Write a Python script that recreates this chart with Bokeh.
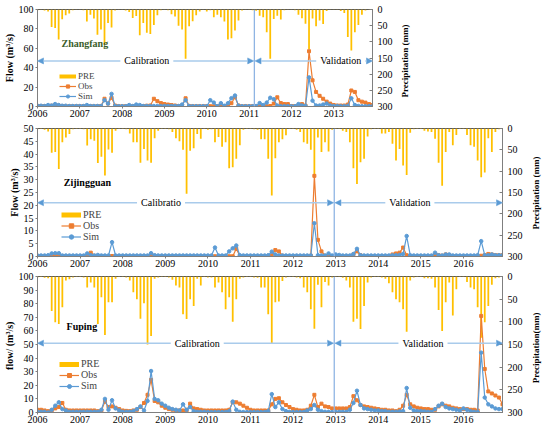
import math
from bokeh.plotting import figure
from bokeh.models import (Range1d, LinearAxis, FixedTicker, Span, Arrow, NormalHead,
                          Label, Legend, LegendItem, ColumnDataSource)
from bokeh.layouts import column
from bokeh.embed import file_html
from bokeh.resources import INLINE

FONT = "Liberation Serif"
GOLD = "#FFC000"
OBS_C = "#ED7D31"
SIM_C = "#5B9BD5"
ARROW_LINE = "#A9CBEB"
ARROW_HEAD = "#5B9BD5"
VLINE_C = "#8FB4E3"
NBSP = "\u00a0"

# ---------------- Zhangfang (2006-2013, monthly) ----------------
zf_years = ["2006", "2007", "2008", "2009", "2010", "2011", "2012", "2013"]
zf_pre = [2, 1, 3, 6, 54, 57, 93, 30, 18, 12, 2, 1,
          1, 2, 37, 16, 28, 78, 62, 109, 42, 56, 3, 1,
          1, 3, 8, 26, 20, 80, 42, 72, 76, 48, 18, 2,
          1, 2, 15, 22, 50, 62, 152, 52, 36, 18, 6, 1,
          6, 2, 24, 16, 24, 37, 93, 89, 65, 34, 3, 1,
          1, 2, 4, 19, 24, 70, 152, 29, 19, 31, 2, 1,
          1, 2, 16, 27, 44, 122, 28, 52, 34, 45, 5, 1,
          1, 1, 5, 11, 85, 127, 70, 48, 16, 3, 1, 1]
zf_obs = [0.5, 0.5, 0.5, 0.5, 0.8, 1.2, 1, 0.5, 0.3, 0.3, 0.3, 0.3,
          0.3, 0.3, 0.3, 0.3, 0.3, 0.3, 0.5, 8, 3, 9, 1, 0.3,
          0.3, 0.3, 0.3, 0.3, 0.5, 0.5, 0.5, 0.8, 1, 8, 5.5, 3.5,
          2.5, 2, 1.5, 1, 0.5, 1, 8.5, 0.5, 0.3, 0.3, 0.3, 0.3,
          0.3, 0.3, 0.3, 0.3, 1.5, 0.3, 0.3, 3.4, 9.6, 1, 0.3, 0.3,
          0.3, 0.3, 0.3, 0.3, 0.3, 0.3, 0.5, 3, 9.5, 3.5, 2.5, 2.5,
          0.5, 0.5, 1, 2.5, 1, 57, 27, 15, 11, 8, 5, 3,
          1.5, 1, 1, 1, 2, 16.5, 15, 6.5, 5, 4, 2.5, 1.5]
zf_sim = [0.8, 0.8, 0.5, 1.5, 1, 2.5, 1.5, 0.8, 0.8, 0.5, 0.5, 0.5,
          0.5, 0.5, 1.5, 0.5, 0.5, 0.5, 0.5, 6.5, 3, 13, 0.5, 0.3,
          0.3, 0.3, 1.5, 0.5, 2, 1.5, 0.5, 0.5, 0.5, 0.5, 0.5, 0.5,
          0.5, 0.5, 0.5, 0.5, 0.5, 2, 6.5, 0.5, 0.3, 0.3, 0.3, 0.3,
          0.3, 6.5, 4, 0.3, 3.4, 0.8, 3.4, 8.6, 11.3, 0.7, 0.3, 0.3,
          0.3, 0.3, 0.5, 3.5, 1.5, 4, 9, 7.5, 1, 0.3, 0.3, 0.3,
          0.3, 0.3, 2.5, 1, 0.5, 30, 6, 1, 1, 2, 3, 1,
          0.5, 0.5, 0.3, 0.3, 0.5, 8.5, 1.5, 0.5, 0.3, 0.3, 0.3, 0.3]

# ---------------- Zijingguan (2006-2016, monthly) ----------------
zj_years = ["2006", "2007", "2008", "2009", "2010", "2011", "2012", "2013", "2014", "2015", "2016"]
zj_pre = [2, 1, 3, 7, 57, 55, 95, 32, 21, 13, 2, 1,
          1, 2, 40, 25, 29, 81, 66, 110, 49, 57, 5, 1,
          1, 2, 12, 32, 32, 80, 48, 75, 80, 23, 5, 1,
          1, 2, 8, 23, 30, 50, 153, 52, 46, 13, 24, 1,
          3, 2, 32, 20, 43, 32, 93, 91, 71, 39, 3, 1,
          1, 2, 3, 25, 25, 71, 157, 70, 32, 25, 16, 1,
          1, 3, 8, 32, 36, 50, 110, 21, 55, 32, 54, 3,
          1, 1, 5, 8, 32, 93, 130, 79, 71, 19, 2, 1,
          1, 12, 12, 8, 36, 75, 48, 87, 109, 10, 2, 1,
          1, 5, 7, 8, 24, 80, 134, 55, 8, 39, 15, 1,
          1, 15, 39, 43, 75, 114, 103, 23, 55, 8, 2, 1]
zj_obs = [0.1, 0.1, 0.1, 0.1, 0.3, 0.5, 0.5, 0.2, 0.1, 0.1, 0.1, 0.1,
          0.1, 0.1, 0.3, 1.5, 0.3, 0.1, 0.1, 0.1, 0.1, 0.2, 0.1, 0.1,
          0.1, 0.1, 0.1, 0.1, 0.1, 0.1, 0.1, 0.1, 0.5, 0.3, 0.1, 0.1,
          0.1, 0.1, 0.1, 0.1, 0.1, 0.1, 0.1, 0.1, 0.1, 0.1, 0.1, 0.1,
          0.1, 0.1, 0.1, 0.1, 0.1, 0.1, 0.1, 0.1, 3, 0.2, 0.1, 0.1,
          0.1, 0.1, 0.1, 0.1, 0.1, 0.1, 0.5, 2.5, 2, 0.3, 0.1, 0.1,
          0.1, 0.1, 0.1, 0.1, 0.1, 0.3, 31.5, 6.5, 2, 0.3, 0.1, 0.1,
          0.2, 0.2, 0.1, 0.1, 0.1, 0.8, 2, 0.5, 0.1, 0.1, 0.1, 0.1,
          0.1, 0.1, 0.1, 0.1, 0.8, 1.2, 1.5, 3.5, 0.5, 0.2, 0.1, 0.1,
          0.1, 0.1, 0.1, 0.1, 0.8, 0.5, 0.3, 0.8, 0.5, 0.2, 0.1, 0.1,
          0.1, 0.1, 0.1, 0.1, 0.3, 0.3, 0.5, 1, 0.8, 0.5, 0.5, 0.5]
zj_sim = [0.4, 0.4, 0.4, 0.5, 1.2, 1.3, 1.3, 0.4, 0.4, 0.4, 0.4, 0.4,
          0.4, 0.4, 1.2, 0.5, 0.4, 0.6, 0.4, 0.4, 0.4, 5.6, 0.4, 0.4,
          0.4, 0.4, 0.4, 0.4, 0.4, 0.4, 0.4, 0.4, 1.3, 0.5, 0.4, 0.4,
          0.4, 0.4, 0.4, 0.4, 0.4, 0.4, 0.4, 0.4, 0.4, 0.4, 0.4, 0.4,
          0.4, 0.4, 3.5, 0.4, 0.4, 0.4, 2, 3.2, 4.3, 0.5, 0.4, 0.4,
          0.4, 0.4, 0.4, 0.4, 0.4, 0.5, 1.9, 0.8, 0.4, 0.4, 0.4, 0.4,
          0.4, 0.4, 0.4, 0.4, 0.4, 0.4, 13, 0.5, 0.4, 0.4, 1.2, 0.4,
          0.8, 0.6, 0.4, 0.4, 0.4, 1, 3, 0.5, 0.4, 0.4, 0.4, 0.4,
          0.4, 0.4, 0.4, 0.4, 0.5, 0.5, 0.6, 1, 8, 0.5, 0.4, 0.4,
          0.4, 0.4, 0.4, 0.4, 1.5, 0.5, 0.4, 0.8, 0.8, 0.4, 0.4, 0.4,
          0.4, 0.4, 0.4, 0.4, 0.5, 6, 0.5, 0.5, 0.8, 0.5, 0.5, 0.5]

# ---------------- Fuping (2006-2016, monthly) ----------------
fp_years = zj_years
fp_pre = [2, 1, 3, 4, 76, 101, 105, 68, 9, 6, 2, 1,
          1, 2, 24, 13, 24, 105, 46, 129, 57, 57, 5, 1,
          1, 2, 9, 35, 50, 93, 59, 150, 131, 5, 2, 1,
          1, 2, 7, 20, 24, 83, 94, 50, 65, 5, 20, 1,
          2, 2, 24, 13, 35, 72, 46, 100, 50, 5, 2, 1,
          1, 2, 3, 24, 24, 83, 148, 57, 55, 10, 2, 1,
          1, 2, 4, 24, 35, 72, 115, 18, 68, 12, 20, 2,
          1, 1, 3, 9, 24, 100, 93, 116, 65, 13, 2, 1,
          1, 2, 5, 15, 35, 50, 57, 72, 122, 9, 2, 1,
          1, 4, 4, 5, 24, 74, 120, 57, 13, 86, 28, 1,
          1, 12, 24, 28, 68, 135, 101, 65, 18, 4, 2, 1]
fp_obs = [2, 2, 1.5, 1, 1.5, 3, 4, 7, 2, 1.5, 1.5, 1.5,
          1.5, 1.5, 1.5, 1.5, 1.5, 1, 1.5, 8, 4, 4.5, 3.5, 2.5,
          1.5, 1.2, 1, 1.5, 2, 4, 7, 13, 24, 8.5, 7.5, 5,
          3.5, 2.5, 2, 1.5, 1.5, 1.5, 1.5, 6.5, 3, 2.5, 2, 1.5,
          1.5, 1.5, 1.5, 1.5, 1.5, 1.5, 2, 7.5, 7.5, 6.5, 5, 3.5,
          2, 1.5, 1.5, 1.5, 1.5, 1.5, 6, 10, 10.5, 7.5, 5.5, 4,
          2.5, 2, 1.5, 1.5, 2, 5, 13, 4, 6.5, 4.5, 4, 3,
          3, 3, 3, 3, 4, 12, 9, 5.5, 4.5, 4, 3.5, 3,
          2.5, 2, 2, 1.5, 1.5, 1, 2, 5, 13, 6, 4.5, 3.5,
          3, 2.5, 2.5, 2, 2, 4.5, 6, 5, 4.5, 3.5, 3, 2.5,
          2.5, 2.5, 2, 2, 1.5, 71, 32, 15.5, 14, 12.5, 11, 6]
fp_sim = [0.5, 0.5, 0.5, 0, 2, 5, 7.5, 2.5, 1.5, 0.5, 0.5, 0.5,
          0.5, 0.5, 0.5, 0.5, 0.5, 0.5, 2, 10, 2, 9, 3, 1.5,
          0.5, 0.5, 0.5, 1, 2.5, 4.5, 1.5, 8.5, 30.5, 10, 9, 6.5,
          5, 3.5, 2.5, 2, 1.5, 6, 2, 4, 1, 0.5, 0.5, 0.5,
          0.3, 0.3, 0.3, 0.3, 0.3, 0.3, 1, 8, 2, 0.5, 0.3, 0.3,
          0.3, 0.3, 0.3, 0.3, 0.3, 1, 13.5, 4, 7.5, 2.5, 1, 0.5,
          0.3, 0.3, 0.3, 0.3, 1.5, 2.5, 5.5, 2, 1, 0.5, 0.5, 0.3,
          0.5, 0.5, 0.5, 0.5, 2, 7, 16, 5.5, 3, 2.5, 2, 1.5,
          1.5, 1, 1, 0.5, 0.5, 0.5, 0.8, 1, 18, 3.5, 1.5, 1,
          1, 0.8, 0.5, 0.5, 2.5, 5, 6.5, 4, 3, 2.5, 2, 1.5,
          3, 2, 1, 0.5, 0.3, 44, 11, 6, 4.5, 3, 2.5, 2.5]

NAN = float("nan")


def style_axis(ax, fs="10px"):
    ax.major_label_text_font = FONT
    ax.major_label_text_font_size = fs
    ax.major_label_text_color = "black"
    ax.axis_label_text_font = FONT
    ax.axis_label_text_font_size = "10px"
    ax.axis_label_text_font_style = "bold"
    ax.axis_label_text_color = "black"
    ax.axis_line_color = "#7F7F7F"
    ax.major_tick_line_color = "#7F7F7F"
    ax.minor_tick_line_color = None


def head():
    return NormalHead(size=6, fill_color=ARROW_HEAD, line_color=ARROW_HEAD, line_width=0.5)


def text_label(p, x, y, text, align="center", color="black", bold=False, bg=False, fs="10px"):
    lab = Label(x=x, y=y, text=text, text_align=align, text_baseline="middle",
                text_font=FONT, text_font_size=fs, text_color=color,
                text_font_style="bold" if bold else "normal")
    if bg:
        lab.background_fill_color = "white"
        try:
            lab.padding = 4
        except Exception:
            pass
    p.add_layout(lab)


def make_panel(pre, obs, sim, years, frame_w, frame_h, b_top, b_bottom, ymax, ystep,
               ylabel, rlabel, rpad, rstand, vline, arrow_y, cal_x, cal_text, val_x,
               station, st_x, st_y, st_color, leg_loc, row_h, glyph_w, pre_lw, leg_fs):
    n = len(pre)
    m = list(range(n))
    b_left, b_right = 33, 37
    p = figure(width=b_left + frame_w + b_right, height=b_top + frame_h + b_bottom,
               output_backend="svg", toolbar_location=None,
               x_range=Range1d(0, n - 1), y_range=Range1d(0, ymax),
               min_border_left=b_left, min_border_right=b_right,
               min_border_top=b_top, min_border_bottom=b_bottom)
    p.extra_y_ranges = {"pre": Range1d(300, 0)}
    p.xgrid.visible = False
    p.ygrid.visible = False
    p.outline_line_color = "#595959"
    p.outline_line_width = 1

    src = ColumnDataSource(dict(m=m, pre=pre, obs=obs, sim=sim))
    p.vbar(x="m", top=0, bottom="pre", width=0.5, source=src, y_range_name="pre",
           fill_color=GOLD, line_color=None)

    p.add_layout(Span(location=vline, dimension="height", line_color=VLINE_C, line_width=1.3))

    obs_l = p.line("m", "obs", source=src, line_color=OBS_C, line_width=1.2)
    obs_s = p.scatter("m", "obs", source=src, marker="square", size=3,
                      fill_color=OBS_C, line_color=OBS_C)
    sim_l = p.line("m", "sim", source=src, line_color=SIM_C, line_width=1.2)
    sim_s = p.scatter("m", "sim", source=src, marker="circle", size=3.5,
                      fill_color=SIM_C, line_color=SIM_C)
    pre_proxy = p.line(x=[NAN, NAN], y=[NAN, NAN], line_color=GOLD, line_width=pre_lw)

    # calibration / validation arrows
    p.add_layout(Arrow(start=head(), end=head(), x_start=0, y_start=arrow_y,
                       x_end=vline - 0.2, y_end=arrow_y, line_color=ARROW_LINE, line_width=1.5))
    p.add_layout(Arrow(start=head(), end=head(), x_start=vline + 0.2, y_start=arrow_y,
                       x_end=n - 1, y_end=arrow_y, line_color=ARROW_LINE, line_width=1.5))
    text_label(p, cal_x, arrow_y, cal_text, bg=True)
    text_label(p, val_x, arrow_y, "Validation", bg=True)
    text_label(p, st_x, st_y, station, align="left", color=st_color, bold=True)

    legend = Legend(items=[LegendItem(label="PRE", renderers=[pre_proxy]),
                           LegendItem(label="Obs", renderers=[obs_l, obs_s]),
                           LegendItem(label="Sim", renderers=[sim_l, sim_s])],
                    location=leg_loc, background_fill_alpha=0, border_line_color=None,
                    padding=0, margin=0, spacing=0, glyph_height=row_h, glyph_width=glyph_w,
                    label_height=row_h, label_standoff=2, label_text_font=FONT,
                    label_text_font_size=leg_fs)
    p.add_layout(legend)

    # axes
    xa = p.xaxis[0]
    xa.ticker = FixedTicker(ticks=[12 * i for i in range(len(years))])
    xa.major_label_overrides = {12 * i: y for i, y in enumerate(years)}
    xa.major_tick_out = 2
    xa.major_tick_in = 0
    xa.major_label_standoff = 1
    style_axis(xa)

    ya = p.yaxis[0]
    ya.ticker = FixedTicker(ticks=list(range(0, ymax + 1, ystep)))
    ya.axis_label = ylabel
    ya.major_tick_out = 2
    ya.major_tick_in = 0
    ya.major_label_standoff = 2
    ya.axis_label_standoff = 1
    style_axis(ya)

    ra = LinearAxis(y_range_name="pre", ticker=FixedTicker(ticks=list(range(0, 301, 50))),
                    axis_label=NBSP * rpad + rlabel)
    ra.major_tick_out = 0
    ra.major_tick_in = 3
    ra.major_label_standoff = 5
    style_axis(ra)
    ra.axis_label_text_font_size = "9px"
    ra.axis_label_standoff = rstand
    try:
        ra.axis_label_orientation = math.pi / 2
        ra.axis_label_align = "end"
    except Exception:
        pass
    p.add_layout(ra, "right")
    return p


p1 = make_panel(zf_pre, zf_obs, zf_sim, zf_years, 348, 97, 9, 16, 100, 20,
                "Flow (m\u00b3/s)", "Precipitation (mm)", 4, 9,
                61.5, 47, 31, "Calibration", 86,
                "Zhangfang", 6.8, 65, "#3B5E2B",
                (22, 5), 8, 17, 4, "9px")
p2 = make_panel(zj_pre, zj_obs, zj_sim, zj_years, 478, 128, 6, 16, 50, 5,
                "Flow (m\u00b3/s)", "Precipitation (mm)", 12, 10,
                83.6, 21, 34.8, "Calibratio", 104.9,
                "Zijingguan", 7.4, 29, "black",
                (24, 14), 11, 20, 5, "10px")
p3 = make_panel(fp_pre, fp_obs, fp_sim, fp_years, 478, 136, 4, 20, 100, 10,
                "flow/  (m\u00b3/s)", "Precipitation(mm)", 13, 10,
                83.6, 51, 45, "Calibration", 108.6,
                "Fuping", 8.2, 63, "black",
                (22, 21), 10, 20, 5, "10px")

layout = column(p1, p2, p3, spacing=0)
open("out.html", "w").write(file_html(layout, INLINE))
